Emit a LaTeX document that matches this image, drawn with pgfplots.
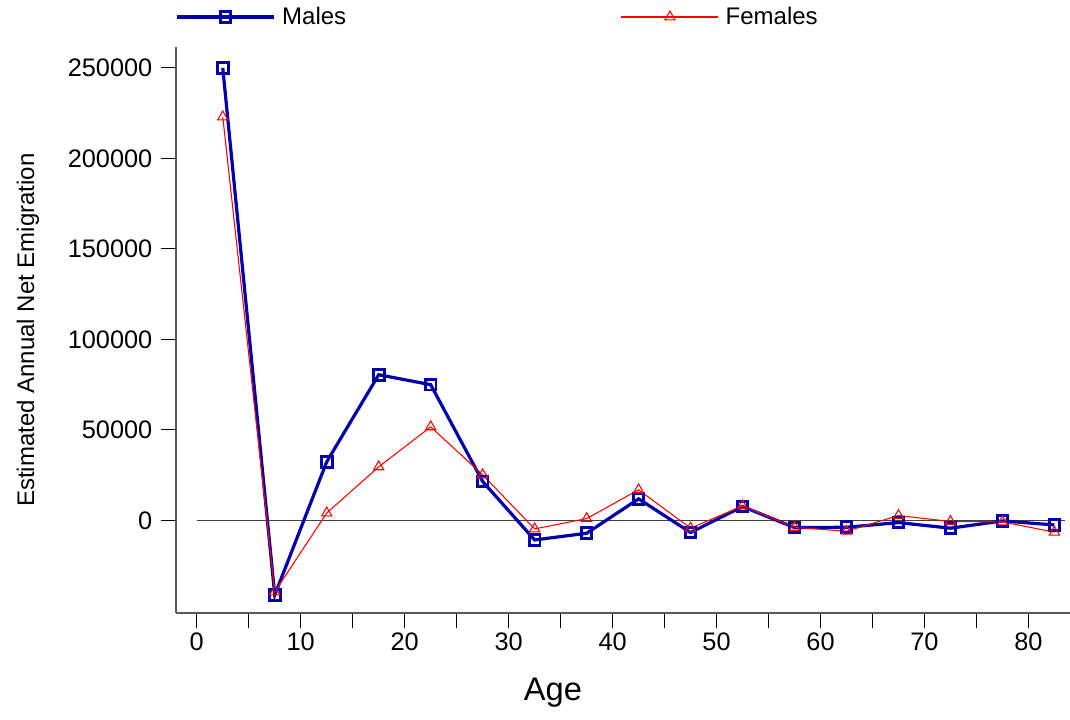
\documentclass[border=0pt]{standalone}
\usepackage{pgfplots}
\pgfplotsset{compat=1.18}
\usepackage{fontspec}
\setmainfont{Liberation Sans}
\definecolor{mblue}{RGB}{0,0,170}
\definecolor{fred}{RGB}{255,0,0}
\begin{document}
\begin{tikzpicture}
\useasboundingbox (-132pt,-79.5pt) rectangle (670.5pt,459.75pt);
\begin{axis}[
  at={(0pt,0pt)}, anchor=south west,
  scale only axis, width=670.5pt, height=424.5pt,
  xmin=-2, xmax=84, ymin=-51170, ymax=261600,
  axis x line=bottom, axis y line=left,
  axis line style={black!65, line width=0.9pt, -},
  xtick={0,10,...,80}, minor xtick={5,15,...,75},
  ytick={0,50000,100000,150000,200000,250000},
  tick align=outside, major tick length=11.25pt, minor tick length=11.25pt,
  tick style={black, line width=0.75pt},
  scaled y ticks=false,
  yticklabel style={/pgf/number format/fixed, /pgf/number format/1000 sep={}, xshift=-3pt},
  /pgf/number format/assume math mode=true,
  ticklabel style={font=\fontsize{19}{21}\selectfont},
  xlabel={Age},
  xlabel style={font=\fontsize{24.5}{28}\selectfont, at={(rel axis cs:0.4217,0)}, anchor=center, yshift=-60pt},
  ylabel={Estimated Annual Net Emigration},
  ylabel style={font=\fontsize{18}{20}\selectfont, at={(rel axis cs:0,0.5)}, anchor=center, yshift=111pt},
  clip=false,
  legend columns=2,
  legend style={at={(rel axis cs:0,1)}, anchor=west, xshift=-0.75pt, yshift=22.5pt,
    draw=none, fill=none, inner sep=0pt, font=\fontsize{18}{20}\selectfont,
    nodes={inner sep=0pt},
    /tikz/every odd column/.append style={column sep=5pt},
    /tikz/every even column/.append style={column sep=206pt}},
  legend image code/.code={\draw[mark repeat=2,mark phase=2] plot coordinates {(0pt,0pt) (36.4pt,0pt) (72.8pt,0pt)};},
]
\addplot[black!75, line width=0.7pt, forget plot] coordinates {(0,0) (83.5,0)};
\addplot[mblue, line width=2.4pt, mark=square, mark size=4pt, mark options={solid, line width=2.2pt}] coordinates {
(2.5,250000) (7.5,-41200) (12.5,32400) (17.5,80500) (22.5,75000) (27.5,21500)
(32.5,-10800) (37.5,-7100) (42.5,11900) (47.5,-6700) (52.5,7650) (57.5,-3950)
(62.5,-3800) (67.5,-1200) (72.5,-4300) (77.5,-300) (82.5,-2500)};
\addlegendentry{Males}
\addplot[fred, line width=0.8pt, mark=triangle, mark size=4.4pt, mark options={solid, line width=0.8pt}] coordinates {
(2.5,223000) (7.5,-39500) (12.5,4100) (17.5,29600) (22.5,51700) (27.5,25200)
(32.5,-4700) (37.5,1000) (42.5,16900) (47.5,-4300) (52.5,8000) (57.5,-3800)
(62.5,-6000) (67.5,2700) (72.5,-600) (77.5,-800) (82.5,-6500)};
\addlegendentry{Females}
\end{axis}
\end{tikzpicture}
\end{document}
